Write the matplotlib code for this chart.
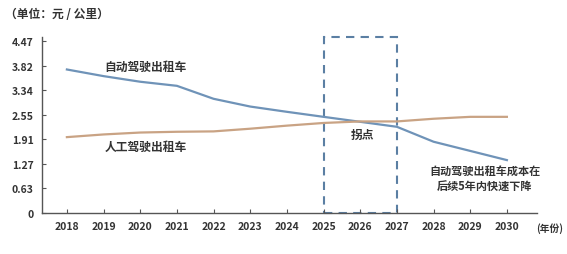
import numpy as np
import matplotlib.pyplot as plt
from matplotlib.patches import Rectangle

plt.rcParams['font.family'] = ['Noto Sans CJK SC', 'DejaVu Sans']

# 数据
years = list(range(2018, 2031))
auto_cost = [3.75, 3.62, 3.51, 3.43, 3.07, 2.82, 2.65, 2.50, 2.37, 2.24, 1.85, 1.61, 1.37]
manual_cost = [1.97, 2.04, 2.09, 2.11, 2.12, 2.19, 2.27, 2.34, 2.38, 2.38, 2.45, 2.50, 2.50]
ytick_vals = [0, 0.63, 1.27, 1.91, 2.55, 3.34, 3.82, 4.47]
ytick_labels = ['0', '0.63', '1.27', '1.91', '2.55', '3.34', '3.82', '4.47']

# 纵轴刻度等距但数值不等距 -> 分段线性映射
vals_ext = ytick_vals + [ytick_vals[-1] + (ytick_vals[-1] - ytick_vals[-2])]
idx_ext = list(range(len(vals_ext)))


def fwd(v):
    return np.interp(v, vals_ext, idx_ext)


def inv(i):
    return np.interp(i, idx_ext, vals_ext)


fig = plt.figure(figsize=(5.67, 2.55), dpi=100)
ax = fig.add_axes([0.074, 0.161, 0.873, 0.69])
ax.set_yscale('function', functions=(fwd, inv))

c_blue = '#6f93b8'
c_orange = '#c9a384'
c_text = '#333333'

ax.plot(years, auto_cost, color=c_blue, lw=1.6)
ax.plot(years, manual_cost, color=c_orange, lw=1.6)

ax.set_xlim(2017.32, 2030.82)
ax.set_ylim(0, inv(7.18))
ax.set_xticks(years)
ax.set_xticklabels([str(y) for y in years], fontsize=7.5, fontweight='bold', color=c_text)
ax.set_yticks(ytick_vals)
ax.set_yticklabels(ytick_labels, fontsize=7.5, fontweight='bold', color=c_text)
ax.yaxis.set_minor_locator(plt.NullLocator())
ax.tick_params(direction='in', length=3, color='#555555', pad=6)

for s in ['top', 'right']:
    ax.spines[s].set_visible(False)
for s in ['left', 'bottom']:
    ax.spines[s].set_color('#555555')
    ax.spines[s].set_linewidth(1.0)

# 拐点虚线框
box = Rectangle((2025, 0), 2, 1, transform=ax.get_xaxis_transform(),
                fill=False, edgecolor='#5b7fa3', lw=1.5, ls=(0, (4, 3)), clip_on=False)
ax.add_patch(box)

ax.text(2020.15, 3.82, '自动驾驶出租车', fontsize=8.5, fontweight='bold',
        color=c_text, ha='center', va='center')
ax.text(2020.15, 1.74, '人工驾驶出租车', fontsize=8.5, fontweight='bold',
        color=c_text, ha='center', va='center')
ax.text(2026.05, 2.05, '拐点', fontsize=8.5, fontweight='bold',
        color=c_text, ha='center', va='center')
ax.text(2029.4, 0.89, '自动驾驶出租车成本在\n后续5年内快速下降', fontsize=8,
        fontweight='bold', color=c_text, ha='center', va='center', linespacing=1.3)

fig.text(5 / 567, 1 - 15 / 255, '（单位：元 / 公里）', fontsize=8.5,
         fontweight='bold', color=c_text, ha='left', va='center')
fig.text(550 / 567, 1 - 229 / 255, '(年份)', fontsize=7,
         fontweight='bold', color=c_text, ha='center', va='center')

fig.savefig('out.png', dpi=100)
